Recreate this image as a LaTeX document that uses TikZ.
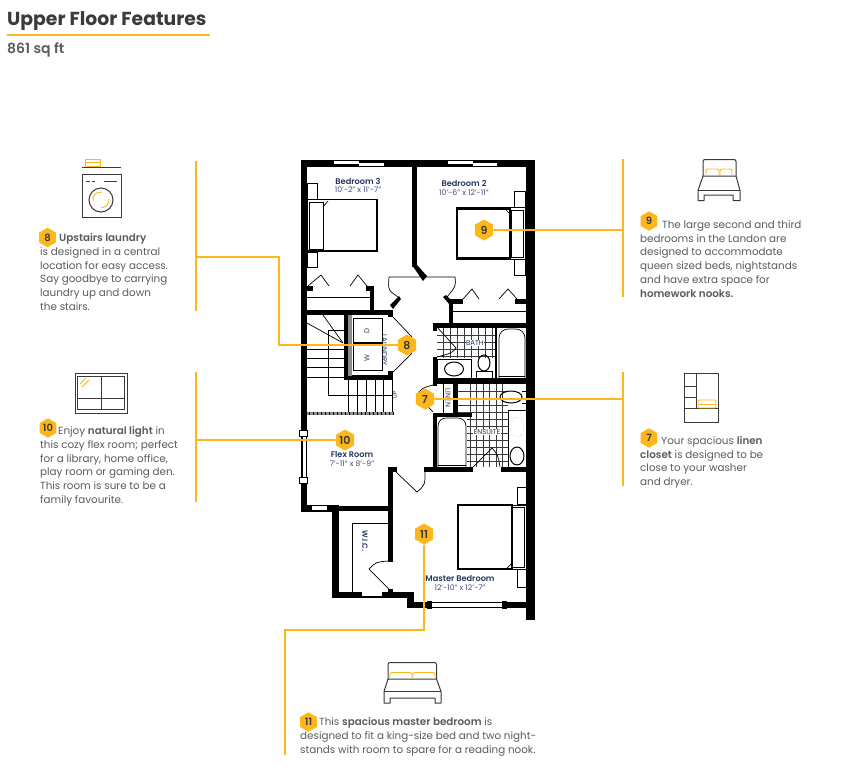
\documentclass[tikz,border=0pt]{standalone}
\usepackage{fontspec}
\setmainfont{Poppins}[BoldFont={Poppins SemiBold}]
\newfontfamily\headingfont{Poppins Bold}
\usetikzlibrary{shapes.geometric}
\definecolor{gold}{HTML}{FDB71A}
\definecolor{ink}{HTML}{3A3A3C}
\definecolor{copy}{HTML}{5A5B60}
\definecolor{roomblue}{HTML}{24365E}
\tikzset{
  badge/.style={regular polygon,regular polygon sides=6,regular polygon rotate=30,minimum size=19.5pt,inner sep=0pt,fill=gold,text=ink,font=\fontsize{10}{10}\selectfont\bfseries},
  bigbadge/.style={badge,minimum size=21pt,font=\fontsize{11}{11}\selectfont\bfseries},
  leader/.style={gold,line width=1.8pt},
  blurb/.style={anchor=north west,inner sep=0pt,align=left,text=copy,font=\fontsize{10.35}{13.7}\selectfont},
  roomname/.style={inner sep=0pt,text=roomblue,font=\fontsize{8.2}{8}\selectfont\bfseries},
  roomsize/.style={inner sep=0pt,text=copy!80!blue,font=\fontsize{7.7}{8}\selectfont},
  fixture/.style={inner sep=0pt,text=roomblue,font=\fontsize{7}{7}\selectfont},
  thin line/.style={black,line width=.7pt},
  icon/.style={ink,line width=1pt},
  goldicon/.style={gold,line width=.9pt}
}
\begin{document}
\begin{tikzpicture}[x=1pt,y=-1pt]
  \path[use as bounding box,fill=white] (0,0) rectangle (846,780);
  % heading
  \node[anchor=base west,inner sep=0pt,text=ink,font=\fontsize{18.8}{19}\selectfont\headingfont] (title) at (7,25) {Upper Floor Features};
  \node[anchor=base west,inner sep=0pt,text=copy,font=\fontsize{14}{14}\selectfont\bfseries] (area) at (7,53) {861 sq ft};
  \coordinate (ruleend) at (210,35);
  \draw[gold,line width=2pt] (7,35) -- (ruleend);

  % tiles
  \foreach \x in {443,450,457,464,471,478,485,492}
    \draw[ink,line width=.8pt] (\x,328) -- (\x,358);
  \foreach \y in {335,342,349,356}
    \draw[ink,line width=.8pt] (437,\y) -- (495,\y);
  \foreach \x in {470,476.5,483,489.5,496,502.5}
    \draw[ink,line width=.8pt] (\x,384) -- (\x,467);
  \foreach \y in {391,398,405,412,419,426,433,440,447,454,461}
    \draw[ink,line width=.8pt] (458,\y) -- (508,\y);
  \fill[white] (437,359) rectangle (495,378);
  \fill[white] (437,417) rectangle (467,467);

  % walls
  \foreach \xa/\ya/\xb/\yb in {
    301/160/535/167, 301/160/307/512, 526/160/535/620, 301/505/339/512,
    332/505/339/598, 332/592/414/598, 407/592/414/608, 407/602/535/608,
    412/160/417/267, 366/286/374/291, 307/286/313/291, 370/286/374/312,
    307/310/393/315, 449/299/453/325, 449/299/463/304, 515/299/526/304,
    433/323/526/328, 433/323/437/331, 433/357/437/384, 433/378/530/384,
    453/384/458/413, 433/413/472/417, 433/413/437/472, 424/467/473/472,
    501/467/526/472, 388/467/393/562, 388/467/397/472, 332/506/393/511,
    388/589/393/593, 344/315/348/378, 344/375/393/380, 388/310/393/317,
    388/371/393/377, 433/380/437/386}
    \fill[black] (\xa,\ya) rectangle (\xb,\yb);
  \fill[black] (412,265) -- (417,265) -- (427,276) -- (423,281) -- cycle;
  \fill[black] (390,305) -- (399,296) -- (401,299) -- (393,309) -- cycle;
  \fill[black] (443,297) -- (446,295) -- (453,302) -- (450,305) -- cycle;
  \fill[black!45] (348,315) rectangle (352,376);
  \fill[black!45] (307,412) rectangle (393,415);
  \foreach \x in {309,313,...,393}
    \draw[black,line width=.4pt] (\x,412) -- (\x,415);

  % windows
  \foreach \xa/\ya/\xb/\yb in {
    334/161/359/164, 359/163/384/166, 448/161/473/164, 473/163/497/166,
    432/603/503/607, 312/506/327/510, 362/592/382/596}
    \fill[white] (\xa,\ya) rectangle (\xb,\yb);
  \draw[black,fill=white,line width=.8pt] (302.5,433) rectangle (306.5,480);
  \foreach \ya/\yb in {430/436,477/483}
    \draw[black,fill=white,line width=.8pt] (299,\ya) rectangle (307,\yb);
  \foreach \x in {427,502}
    \fill[black] (\x,601) rectangle (\x+5,609);

  % doors
  \draw[thin line] (422,277) -- (455,277) .. controls (456,286) .. (447,297);
  \draw[thin line] (422,277) -- (389,277) .. controls (388,290) .. (398,297);
  \draw[thin line] (396,472) -- (417,492) .. controls (425,485) .. (425,472);
  \draw[thin line] (390,590) -- (369,569) .. controls (376,562) .. (388,561);
  \draw[thin line] (433,412) -- (417,395) .. controls (422,388) .. (433,385);
  \draw[thin line] (437,327) -- (456,348) .. controls (452,353) .. (437,357);
  \draw[thin line] (473,467) -- (492,448) .. controls (498,455) .. (500,467);
  \draw[thin line] (393,317) -- (412,337);
  \draw[thin line] (393,372) -- (412,353);

  % closets
  \draw[thin line] (307,297) -- (370,297);
  \draw[thin line] (453,311) -- (526,311);
  \foreach \xa/\xb/\xc in {308/321/329,350/358/367}
    \draw[thin line] (\xa,286) -- (\xb,275) -- (\xc,286);
  \foreach \xa/\xb/\xc in {463/472/479,499/508/517}
    \draw[thin line] (\xa,299) -- (\xb,289) -- (\xc,299);
  \draw[thin line] (352,592) -- (352,523) -- (388,523);
  \node[fixture,rotate=-90,font=\fontsize{7.4}{8}\selectfont\bfseries] (wic) at (365,541) {W.I.C.};

  % beds
  \draw[black,line width=1.3pt] (307,199.5) rectangle (377,251);
  \draw[thin line,fill=white] (309,202) rectangle (323,249);
  \draw[thin line] (307,183) rectangle (317,199);
  \draw[thin line] (307,252) rectangle (317,267);
  \draw[thin line] (323,207) -- (328,201);
  \draw[thin line] (456,207) rectangle (525,259);
  \draw[black,line width=1.2pt] (457.5,209) rectangle (510,258);
  \draw[thin line] (511,210) rectangle (523,257);
  \draw[thin line] (514,191) rectangle (525,207);
  \draw[thin line] (514,259) rectangle (525,275);
  \draw[thin line] (505,209) -- (510,214);
  \draw[black,line width=1.3pt] (458,505) rectangle (512,569);
  \draw[thin line] (512,505) rectangle (526,569);
  \draw[thin line] (512,507) rectangle (524,567);
  \draw[thin line] (517,487) rectangle (526,504);
  \draw[thin line] (517,569) rectangle (526,587);
  \draw[thin line] (506,569) -- (512,563);

  % laundry
  \draw[thin line] (353,318) rectangle (382,342);
  \draw[thin line] (353,343) rectangle (382,370);
  \node[fixture,rotate=90] (dryer) at (367,331) {D};
  \node[fixture,rotate=90] (washer) at (367,358) {W};
  \node[fixture,rotate=-90] (laundry) at (384.5,350) {LAUNDRY};

  % stairs
  \foreach \y in {349,358,367,377}
    \draw[thin line] (307,\y) -- (344,\y);
  \foreach \x in {348,357,366,375,383,392}
    \draw[thin line] (\x,380) -- (\x,412);
  \draw[thin line] (344,330) -- (328,330) -- (328,395) -- (392,395);
  \draw[thin line] (307,323) -- (343,343);
  \draw[thin line] (323,315) -- (343,343);
  \node[fixture,rotate=90,font=\fontsize{5.5}{6}\selectfont] (updown) at (395,395) {UP};

  % bath
  \draw[thin line] (437,359) rectangle (471,378);
  \draw[black,line width=1pt] (454,369) ellipse (9.5 and 7);
  \draw[black,line width=1pt] (484,363) ellipse (6 and 8);
  \draw[thin line] (476,378) -- (476,371) -- (492,371) -- (492,378);
  \fill[black] (495,328) rectangle (497,378);
  \draw[thin line,rounded corners=9pt] (499,378) -- (499,329) -- (525,329) -- (525,378);
  \draw[thin line] (499,376) -- (525,376);
  \node[fixture,fill=white,inner sep=.5pt] (bath) at (475,343) {BATH};

  % ensuite
  \draw[thin line] (443,384) -- (443,413);
  \node[fixture,rotate=-90] (linen) at (448,398) {LINEN};
  \node[fixture,fill=white,inner sep=.5pt] (ensuite) at (487,432) {ENSUITE};
  \draw[black,line width=1pt] (511,397) ellipse (11 and 6);
  \draw[thin line] (522,391) -- (526,391) -- (526,403) -- (522,403);
  \draw[thin line,fill=white] (508,410) rectangle (526,467);
  \draw[black!50,dotted] (517,427) ellipse (7 and 10);
  \draw[black,line width=1pt] (517,456) ellipse (7 and 9);
  \draw[thin line,rounded corners=8pt] (438,467) -- (438,418) -- (466,418) -- (466,467);
  \draw[thin line] (438,465) -- (466,465);

  % room names
  \node[roomname] (bed3) at (358,181) {Bedroom 3};
  \node[roomsize] (bed3size) at (358,190) {10'-2" x 11'-7"};
  \node[roomname] (bed2) at (464,183) {Bedroom 2};
  \node[roomsize] (bed2size) at (464,193) {10'-6" x 12'-11"};
  \node[roomname] (flex) at (352,454) {Flex Room};
  \node[roomsize] (flexsize) at (352,464) {7'-11" x 8'-9"};
  \node[roomname] (master) at (460,578) {Master Bedroom};
  \node[roomsize] (mastersize) at (460,588) {12'-10" x 12'-7"};

  % plan badges
  \node[bigbadge] (nseven) at (425,399) {7};
  \node[bigbadge] (neight) at (407,345) {8};
  \node[bigbadge] (nnine) at (484,230) {9};
  \node[bigbadge] (nten) at (345,440) {10};
  \node[bigbadge] (neleven) at (424,534) {11};

  % leaders
  \coordinate (sevena) at (623,372);
  \coordinate (sevenb) at (623,486);
  \coordinate (sevenc) at (623,399);
  \coordinate (eighta) at (196,161);
  \coordinate (eightb) at (196,311);
  \coordinate (eightc) at (196,257);
  \coordinate (eightd) at (279,257);
  \coordinate (ninea) at (623,159);
  \coordinate (nineb) at (623,297);
  \coordinate (ninec) at (623,230);
  \coordinate (tena) at (196,372);
  \coordinate (tenb) at (196,502);
  \coordinate (tenc) at (196,440);
  \coordinate (elevena) at (285,755);
  \coordinate (elevenb) at (285,630);
  \foreach \from/\to in {sevena/sevenb,eighta/eightb,ninea/nineb,tena/tenb,nseven/sevenc,nnine/ninec,nten/tenc}
    \draw[leader] (\from) -- (\to);
  \draw[leader] (eightc) -- (eightd) |- (neight);
  \draw[leader] (neleven) |- (elevenb) -- (elevena);

  % washer icon
  \draw[ink,line width=.9pt] (82,167.5) -- (121,167.5);
  \draw[goldicon] (85,159.5) rectangle (100,166);
  \draw[goldicon] (85,162.7) -- (100,162.7);
  \draw[icon] (82,174) rectangle (121,217);
  \draw[icon] (86,181.5) -- (90,181.5) (92,181.5) -- (95,181.5) (104,181.5) -- (117,181.5);
  \draw[icon] (101,200) circle (12);
  \draw[goldicon] (93,201) .. controls (93,194) and (96,192) .. (102,192);
  \draw[goldicon] (109,199) .. controls (109,205) and (106,207) .. (101,208);

  % window icon
  \draw[icon] (75.5,373.5) rectangle (127,413);
  \draw[icon] (77.5,376.5) rectangle (124.5,409.5);
  \draw[icon] (101,376.5) -- (101,409.5) (77.5,398) -- (124.5,398);
  \draw[goldicon] (80,384) -- (86,378) (82,387) -- (89,380);

  % bed icons
  \draw[icon,rounded corners=2pt] (703,176) -- (703,159.5) -- (736,159.5) -- (736,176);
  \draw[goldicon,rounded corners=2pt] (706,175) -- (706,169) -- (719,169) -- (719,175);
  \draw[goldicon,rounded corners=2pt] (720,175) -- (720,169) -- (732,169) -- (732,175);
  \draw[icon,line join=round] (703,176) -- (736,176) -- (740,190.5) -- (740,200.5) -- (733,200.5) -- (733,195) -- (704,195) -- (704,200.5) -- (698,200.5) -- (698,190.5) -- cycle;
  \draw[icon] (698,190.5) -- (740,190.5);
  \draw[icon,rounded corners=2pt] (388,679) -- (388,662.5) -- (436.5,662.5) -- (436.5,679);
  \draw[goldicon,rounded corners=2pt] (390,678) -- (390,672.5) -- (412,672.5) -- (412,678);
  \draw[goldicon,rounded corners=2pt] (413,678) -- (413,672.5) -- (435,672.5) -- (435,678);
  \draw[icon,line join=round] (388,679) -- (436.5,679) -- (441,691.5) -- (441,703) -- (435,703) -- (435,698) -- (390,698) -- (390,703) -- (384,703) -- (384,691.5) -- cycle;
  \draw[icon] (384,691.5) -- (441,691.5);

  % linen icon
  \draw[icon] (684,373) rectangle (718,422);
  \draw[icon] (696,373) -- (696,408);
  \draw[icon] (684,408) -- (718,408);
  \draw[icon] (684,386) -- (696,386) (684,397) -- (696,397);
  \draw[goldicon,rounded corners=1pt] (698,400) rectangle (716,408);
  \draw[goldicon] (698,404) -- (716,404);

  % blurbs
  \node[blurb] (laundrytext) at (40,233.5) {\hspace*{19pt}\textbf{Upstairs laundry}\\is designed in a central\\location for easy access.\\Say goodbye to carrying\\laundry up and down\\the stairs.};
  \node[badge] (beight) at (47.5,237.5) {8};
  \node[blurb] (lighttext) at (40,426.5) {\hspace*{18pt}Enjoy \textbf{natural light} in\\this cozy flex room; perfect\\for a library, home office,\\play room or gaming den.\\This room is sure to be a\\family favourite.};
  \node[badge] (bten) at (48,428) {10};
  \node[blurb] (nooktext) at (640,220.5) {\hspace*{22pt}The large second and third\\bedrooms in the Landon are\\designed to accommodate\\queen sized beds, nightstands\\and have extra space for\\\textbf{homework nooks.}};
  \node[badge] (bnine) at (649,221) {9};
  \node[blurb] (linentext) at (640,436) {\hspace*{21pt}Your spacious \textbf{linen}\\\textbf{closet} is designed to be\\close to your washer\\and dryer.};
  \node[badge] (bseven) at (649,438) {7};
  \node[blurb] (mastertext) at (300,717.5) {\hspace*{19pt}This \textbf{spacious master bedroom} is\\designed to fit a king-size bed and two night-\\stands with room to spare for a reading nook.};
  \node[badge] (beleven) at (308.5,722) {11};
\end{tikzpicture}
\end{document}
